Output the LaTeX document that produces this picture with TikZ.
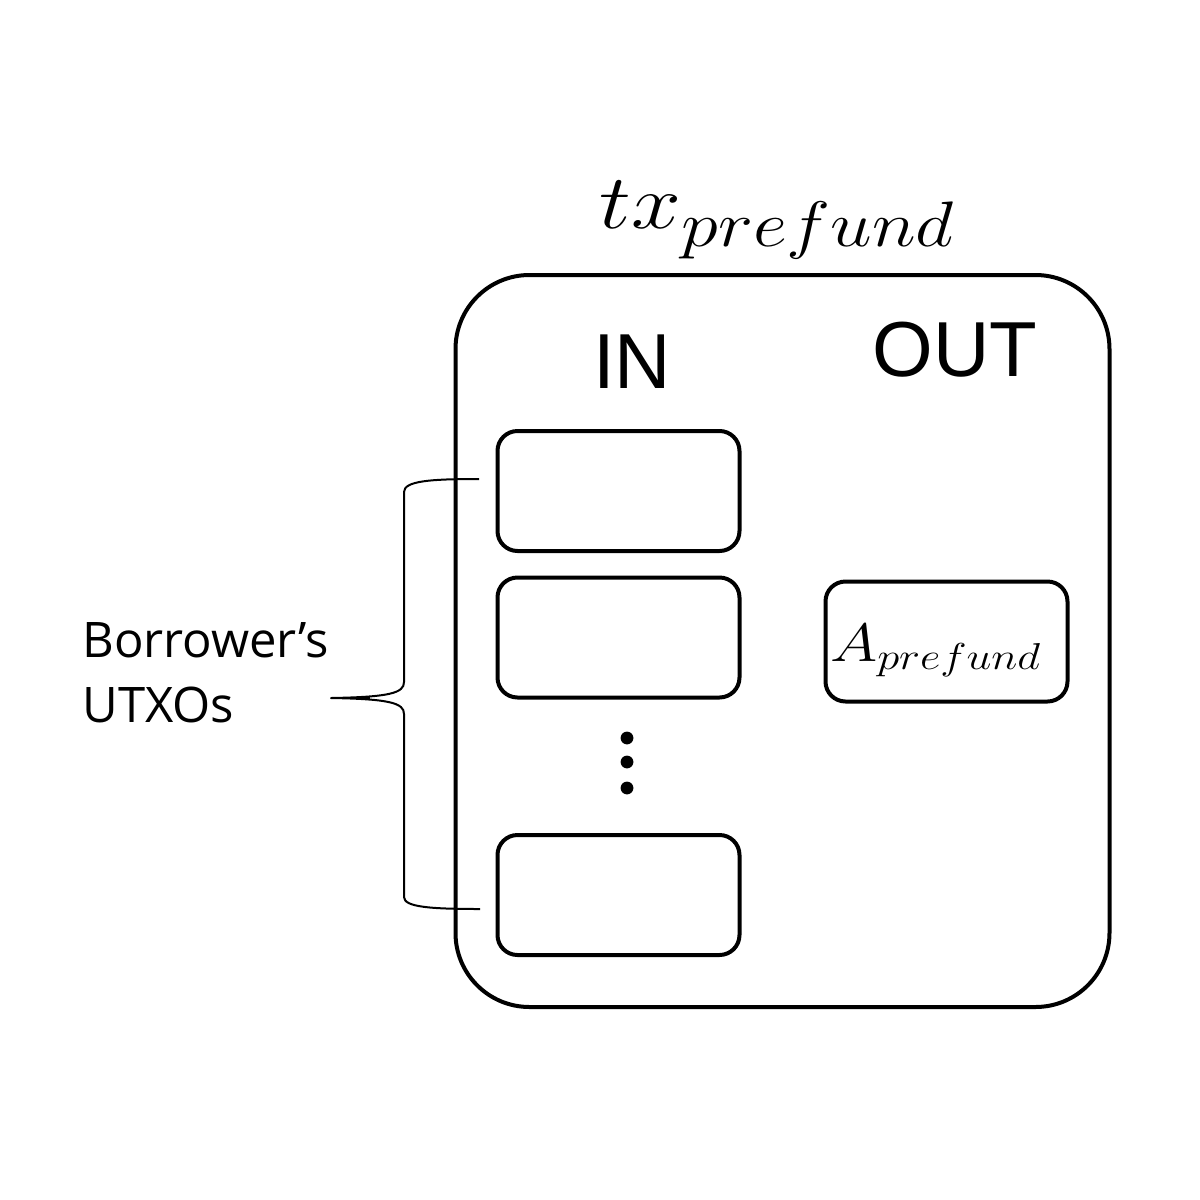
\documentclass[tikz,border=0pt]{standalone}
\usepackage{fontspec}
\setsansfont{Liberation Sans}
\newfontfamily\labelfont{Open Sans}
\begin{document}
\begin{tikzpicture}[x=0.5pt,y=-0.5pt,
  outerbox/.style={draw, line width=2pt, rounded corners=37pt, minimum width=327pt, minimum height=366pt, inner sep=0pt},
  slot/.style={draw, line width=2pt, rounded corners=10pt, minimum width=121pt, minimum height=60pt, inner sep=0pt},
  head/.style={font=\sffamily\fontsize{39}{47}\selectfont, inner sep=0pt},
  bracestyle/.style={line width=1pt, line join=round}]
\useasboundingbox (0,0) rectangle (1200,1200);
\node[outerbox] (tx) at (782.5,641) {};
\node[inner sep=0pt, anchor=base, xscale=1.8, yscale=1.55] (title) at (778,228) {\Huge$tx_{prefund}$};
\node[head, anchor=base] (in) at (632,388) {IN};
\node[head, anchor=base] (out) at (955,376) {OUT};
\node[slot] (in1) at (618.5,491) {};
\node[slot] (in2) at (618.5,637.5) {};
\node[slot] (in3) at (618.5,895) {};
\node[slot] (o1) at (946.5,641.5) {};
\node[inner sep=0pt, anchor=base, xscale=1.55, yscale=1.3] (olbl) at (936,661) {\huge$A_{prefund}$};
\foreach \yy/\nm in {738/d1,762/d2,788/d3}
  \fill (627,\yy) circle (3.2pt) coordinate (\nm);
\coordinate (bt) at (479,479);
\coordinate (bb) at (480,909);
\coordinate (tip) at (331,698);
\draw[bracestyle] (bt) .. controls (430,479) and (404,481) .. (404,492)
  -- (404,682) .. controls (404,693) and (390,697) .. (tip)
  -- (331,698) .. controls (390,699) and (404,703) .. (404,714)
  -- (404,897) .. controls (404,907) and (430,909) .. (bb);
\draw[bracestyle] (tip) -- (370,698);
\node[anchor=base west, inner sep=0pt, align=left, font=\labelfont\fontsize{24.5}{32.5}\selectfont] (lbl) at (82,722) {Borrower’s\\UTXOs};
\end{tikzpicture}
\end{document}
